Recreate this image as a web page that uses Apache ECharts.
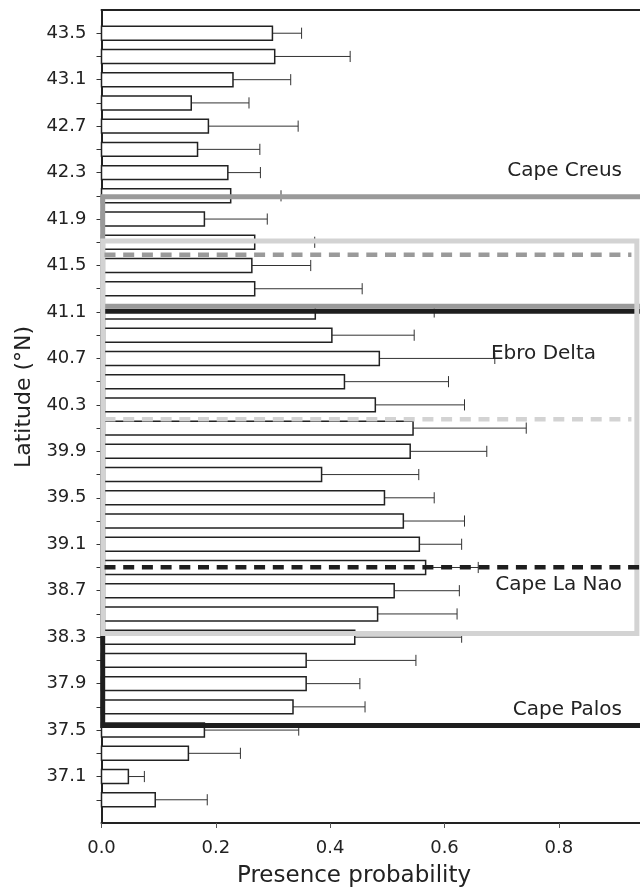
<!DOCTYPE html>
<html>
<head>
<meta charset="utf-8">
<script src="https://cdn.jsdelivr.net/npm/echarts/dist/echarts.min.js"></script>
<style>
html,body{margin:0;padding:0;background:#fff;}
#chart{width:640px;height:888px;}
</style>
</head>
<body>
<div id="chart"></div>
<script>
// ---- data ----
const latitudes = [43.5, 43.3, 43.1, 42.9, 42.7, 42.5, 42.3, 42.1, 41.9, 41.7, 41.5, 41.3, 41.1, 40.9, 40.7, 40.5, 40.3, 40.1, 39.9, 39.7, 39.5, 39.3, 39.1, 38.9, 38.7, 38.5, 38.3, 38.1, 37.9, 37.7, 37.5, 37.3, 37.1, 36.9];
const presence = [0.299, 0.303, 0.230, 0.157, 0.187, 0.168, 0.221, 0.226, 0.180, 0.268, 0.263, 0.268, 0.374, 0.403, 0.486, 0.425, 0.479, 0.545, 0.540, 0.385, 0.495, 0.528, 0.556, 0.567, 0.512, 0.483, 0.443, 0.358, 0.358, 0.335, 0.180, 0.152, 0.047, 0.094];
const upperBound = [0.350, 0.435, 0.331, 0.258, 0.344, 0.277, 0.278, 0.314, 0.290, 0.373, 0.366, 0.456, 0.582, 0.547, 0.688, 0.607, 0.635, 0.743, 0.674, 0.555, 0.582, 0.635, 0.630, 0.659, 0.626, 0.622, 0.630, 0.550, 0.452, 0.461, 0.345, 0.243, 0.075, 0.185];
const yTickLabels = [43.5, 43.1, 42.7, 42.3, 41.9, 41.5, 41.1, 40.7, 40.3, 39.9, 39.5, 39.1, 38.7, 38.3, 37.9, 37.5, 37.1];
const xTickLabels = [0, 0.2, 0.4, 0.6, 0.8];

// regions (boxes) : Cape Palos, Cape Creus, Ebro Delta
const regionNames = ['Cape Palos', 'Cape Creus', 'Ebro Delta'];
const regionTopLat = [41.106, 42.091, 41.71];
const regionBottomLat = [37.539, 41.149, 38.332];
const regionRight = [1.0, 1.0, 0.9365];
// dashed cape lines
const capeLineNames = ['Cape Creus', 'Ebro Delta', 'Cape La Nao'];
const capeLineLat = [41.593, 40.176, 38.902];
const capeLineEnd = [0.927, 0.927, 1.0];

const regionColors = ['#1e1e1e', '#9a9a9a', '#d3d3d3'];
const dashColors = ['#9a9a9a', '#d3d3d3', '#1e1e1e'];
const FONT = 'DejaVu Sans';
const TXT = '#222';

const chart = echarts.init(document.getElementById('chart'), null, {renderer: 'canvas'});

const barData = latitudes.map((lat, i) => [lat, presence[i], upperBound[i]]);
const regionData = regionNames.map((n, i) => [regionTopLat[i], regionBottomLat[i], regionRight[i], i]);
const dashData = capeLineLat.map((lat, i) => [lat, capeLineEnd[i], i]);

const option = {
  animation: false,
  grid: {left: 101.5, right: 0, top: 10, bottom: 65, containLabel: false},
  xAxis: [{
    type: 'value', min: 0, max: 0.942, position: 'bottom',
    splitLine: {show: false},
    axisLine: {show: true, onZero: false, lineStyle: {color: TXT, width: 2}},
    axisTick: {show: true, length: 5, customValues: xTickLabels, lineStyle: {color: '#555', width: 1}},
    axisLabel: {customValues: xTickLabels, margin: 16, color: TXT, fontFamily: FONT, fontSize: 18,
      formatter: v => v.toFixed(1)}
  }, {
    type: 'value', min: 0, max: 0.942, position: 'top',
    splitLine: {show: false},
    axisLine: {show: true, onZero: false, lineStyle: {color: TXT, width: 2}},
    axisTick: {show: false}, axisLabel: {show: false}
  }],
  yAxis: {
    type: 'value', min: 36.7, max: 43.7,
    splitLine: {show: false},
    axisLine: {show: true, onZero: false, lineStyle: {color: TXT, width: 2}},
    axisTick: {show: true, length: 5, customValues: latitudes, lineStyle: {color: '#333', width: 1}},
    axisLabel: {customValues: yTickLabels, margin: 15, color: TXT, fontFamily: FONT, fontSize: 18,
      formatter: v => v.toFixed(1)}
  },
  graphic: [
    {type: 'text', x: 354, y: 876, style: {text: 'Presence probability', fill: TXT, font: '23px "DejaVu Sans"', textAlign: 'center', textVerticalAlign: 'middle'}},
    {type: 'text', x: 24, y: 397, rotation: Math.PI / 2, style: {text: 'Latitude (°N)', fill: TXT, font: '22px "DejaVu Sans"', textAlign: 'center', textVerticalAlign: 'middle'}},
    {type: 'text', x: 622, y: 171, z: 100, style: {text: 'Cape Creus', fill: TXT, font: '20px "DejaVu Sans"', textAlign: 'right', textVerticalAlign: 'middle'}},
    {type: 'text', x: 596, y: 354, z: 100, style: {text: 'Ebro Delta', fill: TXT, font: '20px "DejaVu Sans"', textAlign: 'right', textVerticalAlign: 'middle'}},
    {type: 'text', x: 622, y: 585, z: 100, style: {text: 'Cape La Nao', fill: TXT, font: '20px "DejaVu Sans"', textAlign: 'right', textVerticalAlign: 'middle'}},
    {type: 'text', x: 622, y: 710, z: 100, style: {text: 'Cape Palos', fill: TXT, font: '20px "DejaVu Sans"', textAlign: 'right', textVerticalAlign: 'middle'}}
  ],
  series: [
    {
      type: 'custom', name: 'Presence probability', clip: false, z: 2,
      data: barData,
      encode: {y: 0, x: [1, 2]},
      renderItem: function (params, api) {
        const lat = api.value(0), v = api.value(1), hi = api.value(2);
        const p0 = api.coord([0, lat]);
        const p1 = api.coord([v, lat]);
        const p2 = api.coord([hi, lat]);
        const h = api.size([0, 0.2])[1] * 0.6;
        const cap = api.size([0, 0.2])[1] * 0.24;
        return {type: 'group', children: [
          {type: 'line', shape: {x1: p1[0], y1: p1[1], x2: p2[0], y2: p2[1]}, style: {stroke: '#333', lineWidth: 1}},
          {type: 'line', shape: {x1: p2[0], y1: p2[1] - cap, x2: p2[0], y2: p2[1] + cap}, style: {stroke: '#333', lineWidth: 1}},
          {type: 'rect', shape: {x: p0[0], y: p1[1] - h / 2, width: p1[0] - p0[0], height: h}, style: {fill: '#fff', stroke: '#222', lineWidth: 1.5}}
        ]};
      }
    },
    {
      type: 'custom', name: 'regions', clip: false, z: 5, silent: true,
      data: regionData,
      encode: {y: [0, 1], x: 2},
      renderItem: function (params, api) {
        const top = api.value(0), bottom = api.value(1), right = api.value(2), idx = api.value(3);
        const a = api.coord([0, top]);
        const b = api.coord([right, bottom]);
        return {type: 'rect', shape: {x: a[0] + 1.2, y: a[1], width: b[0] - a[0] - 1.2, height: b[1] - a[1]},
          style: {fill: null, stroke: regionColors[idx], lineWidth: 5}};
      }
    },
    {
      type: 'custom', name: 'cape lines', clip: false, z: 6, silent: true,
      data: dashData,
      encode: {y: 0, x: 1},
      renderItem: function (params, api) {
        const lat = api.value(0), end = api.value(1), idx = api.value(2);
        const a = api.coord([0, lat]);
        const b = api.coord([end, lat]);
        return {type: 'line', shape: {x1: a[0] + 3, y1: a[1], x2: b[0], y2: b[1]},
          style: {stroke: dashColors[idx], lineWidth: 4.5, lineDash: [11, 7.7]}};
      }
    }
  ]
};
chart.setOption(option);
</script>
</body>
</html>
